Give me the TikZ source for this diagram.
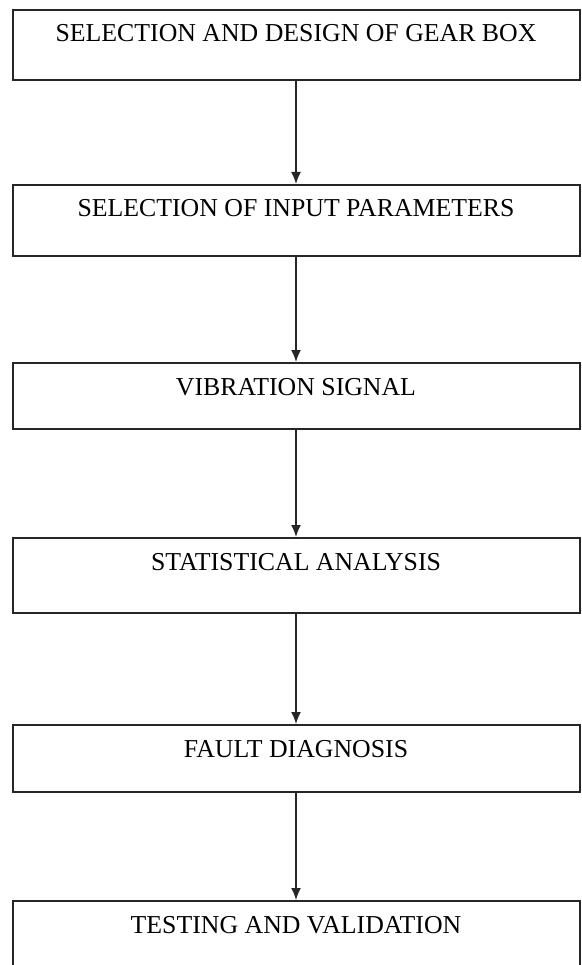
\documentclass[tikz,border=0pt]{standalone}
\usepackage{fontspec}
\setmainfont{Liberation Serif}
\usetikzlibrary{arrows.meta}

\begin{document}
\begin{tikzpicture}[x=1pt,y=-1pt]

                \clip (0,0) rectangle (581,965);
                \fill[white] (0,0) rectangle (581,965);

                \tikzset{stage/.style = {shape=rectangle,draw=black!85,line width=2pt,anchor=north,
                        minimum width=567pt,inner xsep=0pt,inner ysep=0pt,text height=32pt,
                        font=\fontsize{25.8}{30}\selectfont}}
                \tikzset{edge/.style = {->,draw=black!85,line width=1.6pt,> = {Latex[length=12pt,width=10pt]}}}
                \node[stage,text depth=38pt] (gearbox) at (296, 9) {SELECTION AND DESIGN OF GEAR BOX};
                \node[stage,text depth=39pt] (params) at (296, 184) {SELECTION OF INPUT PARAMETERS};
                \node[stage,text depth=34pt] (signal) at (296, 362) {VIBRATION SIGNAL};
                \node[stage,text depth=43pt] (stats) at (296, 537) {STATISTICAL ANALYSIS};
                \node[stage,text depth=35pt] (fault) at (296, 724) {FAULT DIAGNOSIS};
                \node[stage,text depth=48pt] (testing) at (296, 900) {TESTING AND VALIDATION};

                \draw[edge] (gearbox) -- (params);
                \draw[edge] (params) -- (signal);
                \draw[edge] (signal) -- (stats);
                \draw[edge] (stats) -- (fault);
                \draw[edge] (fault) -- (testing);
            \end{tikzpicture}
\end{document}
